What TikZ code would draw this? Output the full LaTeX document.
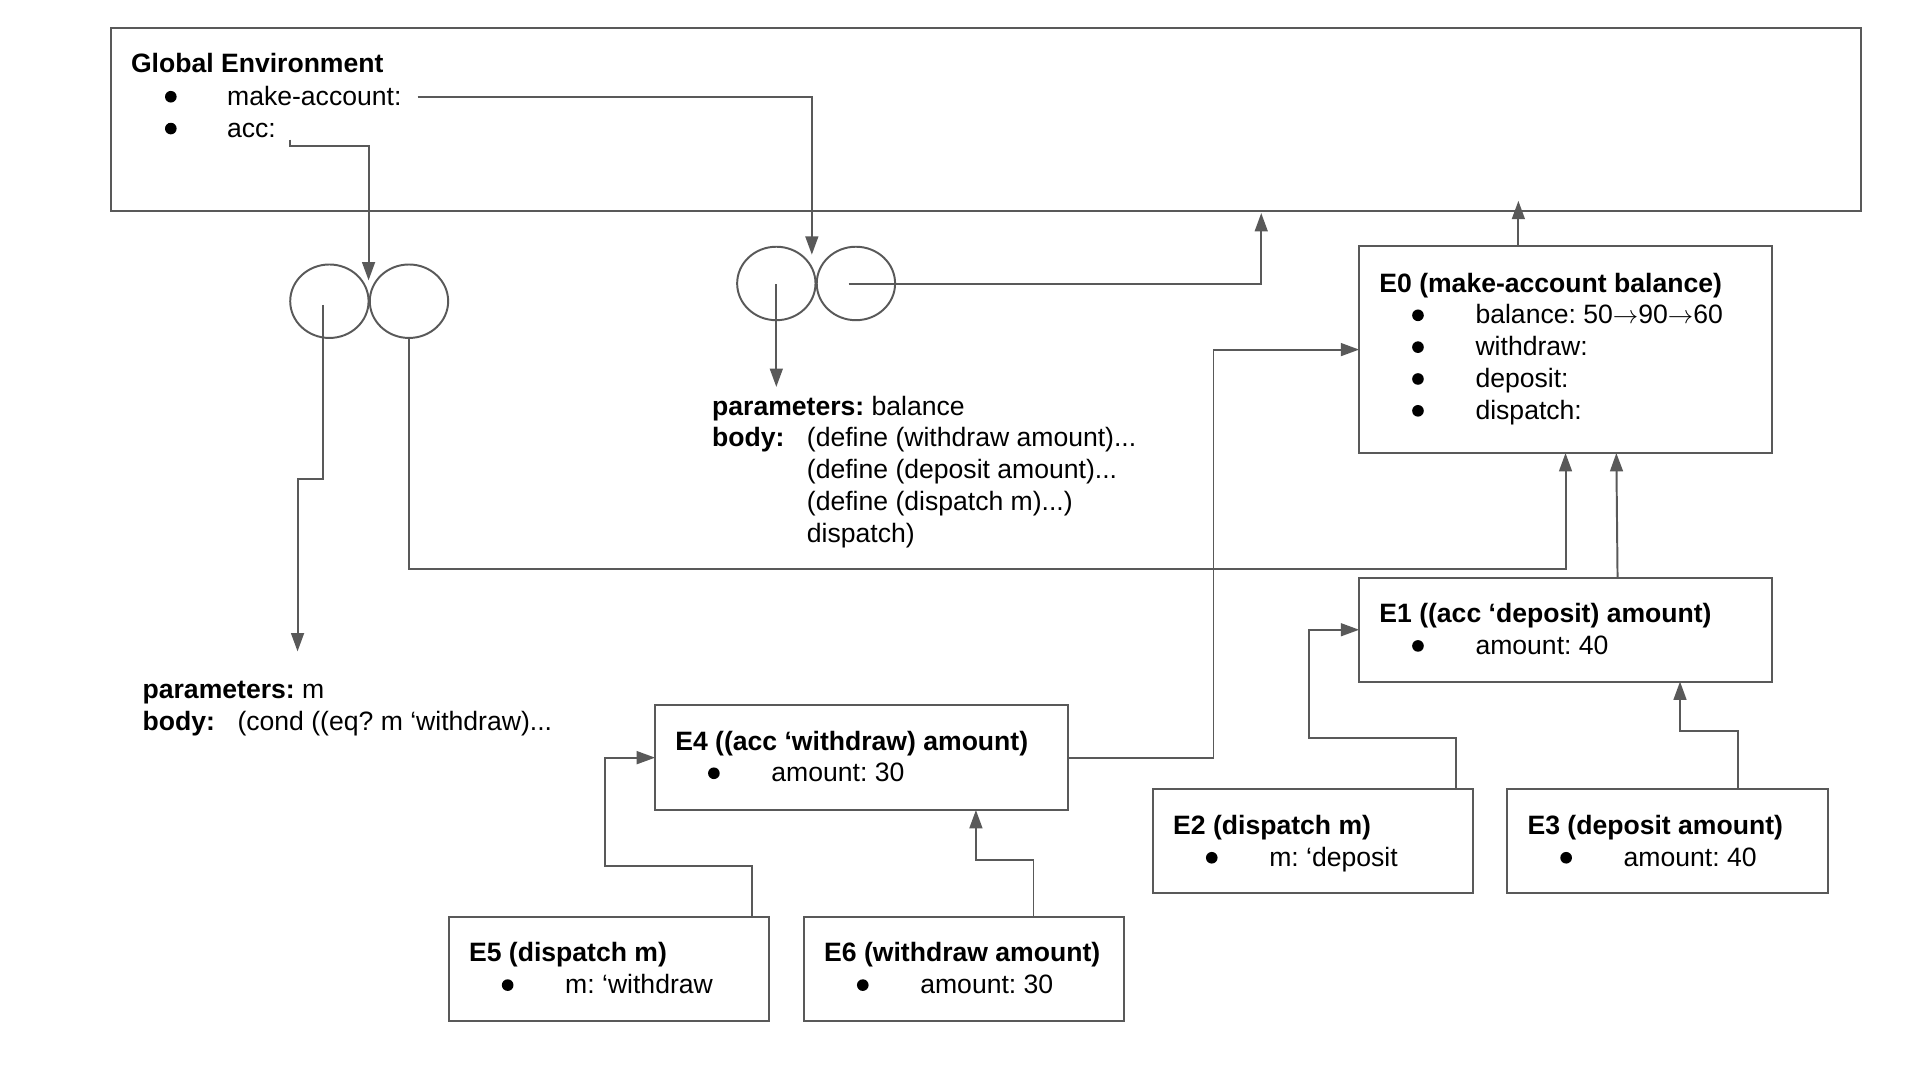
\documentclass[tikz,border=0pt]{standalone}
\usepackage{fontspec}
\setmainfont{Liberation Sans}
\usetikzlibrary{arrows.meta,shapes.geometric}
\definecolor{lc}{RGB}{89,89,89}
\frenchspacing
\tikzset{
  envbox/.style={draw=lc,line width=1.6pt,rectangle,inner sep=0pt,outer sep=0pt,anchor=north west},
  oval/.style={draw=lc,line width=1.6pt,ellipse,inner sep=0pt,outer sep=0pt,minimum width=64pt,minimum height=60pt},
  txt/.style={anchor=base west,inner sep=0pt,outer sep=0pt,font=\fontsize{21.7}{26}\selectfont\frenchspacing},
  dot/.style={circle,fill=black,inner sep=0pt,outer sep=0pt,minimum size=9.5pt},
  arr/.style={draw=lc,line width=1.6pt,-{Triangle[length=15pt,width=10.5pt]}},
  ln/.style={draw=lc,line width=1.6pt}
}
\begin{document}
\begin{tikzpicture}[x=1pt,y=-1pt]
\useasboundingbox (0,0) rectangle (1568,882);
% Global environment
\node[envbox,minimum width=1429pt,minimum height=149pt] (glob) at (91,23) {};
\node[txt] (globt) at ([xshift=16,yshift=-36]glob.north west) {\textbf{Global Environment}};
\node[dot] (globb1) at ([xshift=48.5,yshift=-56]glob.north west) {};
\node[dot] (globb2) at ([xshift=48.5,yshift=-82]glob.north west) {};
\node[txt] (ma) at ([xshift=94.5,yshift=-63]glob.north west) {make-account:};
\node[txt] (acc) at ([xshift=94.5,yshift=-89]glob.north west) {acc:};
% procedure objects
\node[oval] (p1l) at (269,246) {};
\node[oval] (p1r) at (334,246) {};
\node[oval] (p2l) at (634,231.5) {};
\node[oval] (p2r) at (699,231.5) {};
% parameter texts
\node[txt] (par1a) at (581.6,339) {\textbf{parameters:} balance};
\node[txt] (par1b) at (581.6,365) {\textbf{body:}};
\node[txt] (par1c) at (659,365) {(define (withdraw amount)...};
\node[txt] (par1d) at (659,391) {(define (deposit amount)...};
\node[txt] (par1e) at (659,417) {(define (dispatch m)...)};
\node[txt] (par1f) at (659,443) {dispatch)};
\node[txt] (par2a) at (116.5,570.4) {\textbf{parameters:} m};
\node[txt] (par2b) at (116.5,596.3) {\textbf{body:}};
\node[txt] (par2c) at (194,596.3) {(cond ((eq? m ‘withdraw)...};
% E0
\node[envbox,minimum width=337pt,minimum height=169pt] (e0) at (1110,201) {};
\node[txt] (e0t) at ([xshift=16.5,yshift=-37.5]e0.north west) {\textbf{E0 (make-account balance)}};
\foreach \i/\t in {0/{balance: 50$\rightarrow$90$\rightarrow$60},1/{withdraw:},2/{deposit:},3/{dispatch:}}{
  \node[dot] (e0b\i) at ([xshift=48,yshift=-56.5-26*\i]e0.north west) {};
  \node[txt] (e0l\i) at ([xshift=95,yshift=-63.5-26*\i]e0.north west) {\t};
}
% E1
\node[envbox,minimum width=337pt,minimum height=84.6pt] (e1) at (1110,472) {};
\node[txt] (e1t) at ([xshift=16.5,yshift=-36.5]e1.north west) {\textbf{E1 ((acc ‘deposit) amount)}};
\node[dot] (e1b) at ([xshift=48,yshift=-55.5]e1.north west) {};
\node[txt] (e1l) at ([xshift=95,yshift=-62.5]e1.north west) {amount: 40};
% E2
\node[envbox,minimum width=261.4pt,minimum height=84.5pt] (e2) at (941.6,644.5) {};
\node[txt] (e2t) at ([xshift=16.5,yshift=-37]e2.north west) {\textbf{E2 (dispatch m)}};
\node[dot] (e2b) at ([xshift=48,yshift=-56]e2.north west) {};
\node[txt] (e2l) at ([xshift=95,yshift=-63]e2.north west) {m: ‘deposit};
% E3
\node[envbox,minimum width=261.7pt,minimum height=84.5pt] (e3) at (1231,644.5) {};
\node[txt] (e3t) at ([xshift=16.5,yshift=-37]e3.north west) {\textbf{E3 (deposit amount)}};
\node[dot] (e3b) at ([xshift=48,yshift=-56]e3.north west) {};
\node[txt] (e3l) at ([xshift=95,yshift=-63]e3.north west) {amount: 40};
% E4
\node[envbox,minimum width=337pt,minimum height=85.5pt] (e4) at (535,576) {};
\node[txt] (e4t) at ([xshift=16.5,yshift=-36.5]e4.north west) {\textbf{E4 ((acc ‘withdraw) amount)}};
\node[dot] (e4b) at ([xshift=48,yshift=-55.5]e4.north west) {};
\node[txt] (e4l) at ([xshift=95,yshift=-62.5]e4.north west) {amount: 30};
% E5
\node[envbox,minimum width=261.4pt,minimum height=85pt] (e5) at (366.6,749) {};
\node[txt] (e5t) at ([xshift=16.5,yshift=-36.5]e5.north west) {\textbf{E5 (dispatch m)}};
\node[dot] (e5b) at ([xshift=48,yshift=-55.5]e5.north west) {};
\node[txt] (e5l) at ([xshift=95,yshift=-62.5]e5.north west) {m: ‘withdraw};
% E6
\node[envbox,minimum width=261pt,minimum height=85pt] (e6) at (656.6,749) {};
\node[txt] (e6t) at ([xshift=16.5,yshift=-36.5]e6.north west) {\textbf{E6 (withdraw amount)}};
\node[dot] (e6b) at ([xshift=48,yshift=-55.5]e6.north west) {};
\node[txt] (e6l) at ([xshift=95,yshift=-62.5]e6.north west) {amount: 30};
% free ends
\coordinate (mastart) at (341,79.6);
\coordinate (matip) at (663,208);
\coordinate (accstart) at (237,114);
\coordinate (acctip) at (301,229);
\coordinate (p1lstart) at (264,249);
\coordinate (par2tip) at (243,532);
\coordinate (p2lstart) at (634,232);
\coordinate (par1tip) at (634,316);
\coordinate (p2rstart) at (693,232);
% connectors
\draw[arr] (mastart) -| (matip);
\draw[arr] (accstart) -- ++(0,5) -| (acctip);
\draw[arr] (p1lstart) -- ++(0,142) -| (par2tip);
\draw[arr] (p1r.south) -- ++(0,189) -| (e0.south);
\draw[arr] (p2lstart) -- (par1tip);
\draw[arr] (p2rstart) -| ([xshift=939,yshift=-2]glob.south west);
\draw[arr] ([xshift=130]e0.north west) -- ([xshift=1149,yshift=8]glob.south west);
\draw[arr] ([xshift=211]e1.north west) -- ([xshift=210]e0.south west);
\draw[arr] (e4.east) -- ([xshift=119]e4.east) |- (e0.west);
\draw[arr] ([xshift=-14]e2.north east) -- ++(0,-41.5) -| ([xshift=-41]e1.west) -- (e1.west);
\draw[arr] ([xshift=188]e3.north west) -- ++(0,-47.5) -| ([xshift=262]e1.south west);
\draw[arr] ([xshift=-14]e5.north east) -- ++(0,-42) -| ([xshift=-41]e4.west) -- (e4.west);
\draw[arr] ([xshift=187.4]e6.north west) -- ++(0,-47) -| ([xshift=262]e4.south west);
\end{tikzpicture}
\end{document}
